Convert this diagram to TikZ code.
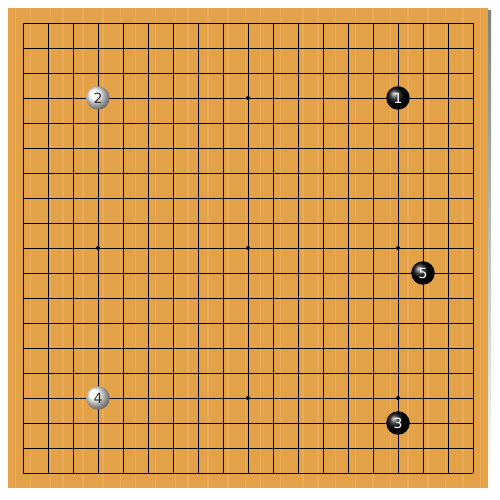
\documentclass[tikz,border=0pt]{standalone}
\usepackage{fontspec}
\setsansfont{DejaVu Sans}
\definecolor{wood}{RGB}{228,162,72}
\definecolor{woodlight}{RGB}{238,180,98}
\definecolor{shade}{RGB}{140,140,140}
\tikzset{
  stone/.style={circle,minimum size=0.47cm,inner sep=0pt,font=\sffamily\fontsize{8}{9}\selectfont},
  bstone/.style={stone,ball color=black,text=white},
  wstone/.style={stone,ball color=white,text=black!80},
  hoshi/.style={circle,fill=black,inner sep=0pt,minimum size=0.08cm}
}
\begin{document}
\begin{tikzpicture}[x=0.5cm,y=0.5cm]
    \useasboundingbox (0.08,-0.08) rectangle (20.08,19.92);
    \fill[white] (0.08,-0.08) rectangle (20.08,19.92);
    % board with shadow
    \fill[shade] (0.52,0.28) rectangle (19.72,19.48);
    \fill[wood] (0.4,0.4) rectangle (19.6,19.6);
    % grain
    \foreach \g in {0.7,1.3,2.1,2.6,3.4,4.2,4.9,5.5,6.3,7.1,7.6,8.4,9.2,9.9,10.5,11.3,12.2,12.8,13.5,14.3,15.0,15.7,16.4,17.2,17.9,18.6,19.3}
    \draw[woodlight,line width=1pt,opacity=0.6] (\g,0.4) -- (\g,19.6);
    % lines
    \foreach \i in {1,...,19}
    {
    \draw[line width=0.55pt] (\i,1) -- (\i,19);
    \draw[line width=0.55pt] (1,\i) -- (19,\i);
    }
    \foreach \x in {4,10,16}
    \foreach \y in {4,10,16}
    \node[hoshi] at (\x,\y) {};
    % stones
    \node[bstone] (s1) at (16,16) {1};
    \node[wstone] (s2) at (4,16) {2};
    \node[bstone] (s3) at (16,3) {3};
    \node[wstone] (s4) at (4,4) {4};
    \node[bstone] (s5) at (17,9) {5};
\end{tikzpicture}
\end{document}
